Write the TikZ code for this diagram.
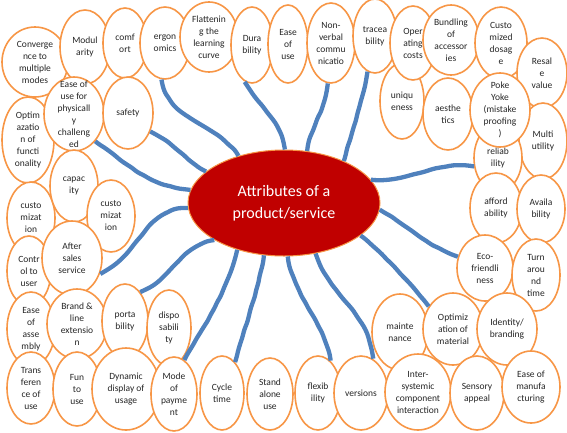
\documentclass[tikz,border=0pt]{standalone}
\usepackage{fontspec}
\setmainfont{Carlito}
\usepackage{tikz}
\usetikzlibrary{shapes.geometric,decorations.pathmorphing}

\definecolor{ringorange}{HTML}{F79646}
\definecolor{linkblue}{HTML}{4F81BD}
\definecolor{coredred}{HTML}{C00000}

\tikzset{
  attr/.style={ellipse, draw=ringorange, line width=1.6pt, fill=white,
    inner sep=-16pt, align=center, text=black!85,
    font=\fontsize{9.5}{12}\selectfont},
  core/.style={ellipse, draw=ringorange, line width=1pt, fill=coredred,
    inner sep=0pt, align=center, text=white, font=\fontsize{16}{22}\selectfont},
  link/.style={draw=linkblue, line width=4.3pt, rounded corners=3pt,
    decorate, decoration={random steps, segment length=7pt, amplitude=0.5pt}}
}

\newcommand{\attrnode}[6]{%
  \node[attr, minimum width=#4*2pt, minimum height=#5*2pt] (#1) at (#2,#3) {#6};}

\begin{document}
\begin{tikzpicture}[x=1pt, y=-1pt]

  \useasboundingbox (0,0) rectangle (567,432);

  % upper rows
  \attrnode{conv}{35}{62}{33}{35}{Converge\\nce to\\multiple\\modes}
  \attrnode{modu}{85}{47}{25}{37}{Modul\\arity}
  \attrnode{comf}{125}{43}{22}{35}{comf\\ort}
  \attrnode{ergo}{165}{43}{25}{36}{ergon\\omics}
  \attrnode{flat}{209}{37}{29}{35}{Flattenin\\g the\\learning\\curve}
  \attrnode{dura}{252}{45}{21}{38}{Dura\\bility}
  \attrnode{easu}{288}{44}{20}{39}{Ease\\of\\use}
  \attrnode{nonv}{331}{43}{24}{40}{Non-\\verbal\\commu\\nicatio}
  \attrnode{trac}{375}{36}{22}{37}{tracea\\bility}
  \attrnode{uniq}{402}{101}{22}{38}{uniqu\\eness}
  \attrnode{opco}{413}{43}{23}{37}{Oper\\ating\\costs}
  \attrnode{bund}{451}{40}{28}{35}{Bundling\\of\\accessor\\ies}
  \attrnode{cust}{501}{43}{26}{36}{Custo\\mized\\dosag\\e}
  \attrnode{resa}{542}{73}{25}{35}{Resal\\e\\value}
  \attrnode{aest}{448}{114}{25}{36}{aesthe\\tics}
  \attrnode{mult}{543}{141}{24}{38}{Multi\\utility}
  \attrnode{reli}{498}{158}{24}{34}{reliab\\ility}
  \attrnode{poke}{500}{110}{30}{37}{Poke\\Yoke\\(mistake\\proofing\\)}

  % left column
  \attrnode{opfu}{28}{140}{26}{43}{Optim\\azatio\\n of\\functi\\onality}
  \attrnode{easp}{74}{114}{30}{37}{Ease of\\use for\\physicall\\y\\challeng\\ed}
  \attrnode{safe}{128}{113}{25}{36}{safety}
  \attrnode{cusl}{31}{218}{24}{36}{custo\\mizat\\ion}
  \attrnode{capa}{74}{186}{24}{36}{capac\\ity}
  \attrnode{cusr}{111}{216}{24}{36}{custo\\mizat\\ion}
  \attrnode{ctrl}{29}{271}{22}{35}{Contr\\ol to\\user}
  \attrnode{afte}{72}{258}{30}{37}{After\\sales\\service}

  % right column
  \attrnode{affo}{496}{208}{26}{35}{afford\\ability}
  \attrnode{avai}{541}{209}{24}{34}{Availa\\bility}
  \attrnode{ecof}{485}{268}{28}{33}{Eco-\\friendli\\ness}
  \attrnode{turn}{536}{275}{24}{36}{Turn\\arou\\nd\\time}

  % lower rows
  \attrnode{assy}{31}{329}{24}{37}{Ease\\of\\asse\\mbly}
  \attrnode{bran}{77}{324}{30}{35}{Brand \&\\line\\extensio\\n}
  \attrnode{port}{125}{321}{23}{37}{porta\\bility}
  \attrnode{disp}{169}{328}{22}{38}{dispo\\sabili\\ty}
  \attrnode{main}{400}{332}{28}{38}{mainte\\nance}
  \attrnode{opma}{453}{329}{30}{36}{Optimiz\\ation of\\material}
  \attrnode{iden}{507}{329}{30}{36}{Identity/\\branding}
  \attrnode{tran}{31}{388}{24}{36}{Trans\\feren\\ce of\\use}
  \attrnode{fun}{77}{389}{24}{37}{Fun\\to\\use}
  \attrnode{dyna}{126}{389}{34}{41}{Dynamic\\display of\\usage}
  \attrnode{mode}{174}{394}{23}{37}{Mode\\of\\payme\\nt}
  \attrnode{cycl}{222}{393}{22}{37}{Cycle\\time}
  \attrnode{stan}{270}{394}{23}{36}{Stand\\alone\\use}
  \attrnode{flex}{318}{393}{23}{37}{flexib\\ility}
  \attrnode{vers}{361}{393}{27}{37}{versions}
  \attrnode{inte}{418}{392}{33}{38}{Inter-\\systemic\\component\\interaction}
  \attrnode{sens}{477}{393}{27}{37}{Sensory\\appeal}
  \attrnode{easm}{531}{387}{29}{36}{Ease of\\manufa\\cturing}

  \node[core, minimum width=192pt, minimum height=106pt] (hub) at (284,203)
    {Attributes of a\\product/service};

  \draw[link] (hub.134) to[out=125,in=-80] (ergo.265);
  \draw[link] (hub.158) to[out=150,in=-25] (safe.320);
  \draw[link] (hub.172) to[out=175,in=-35] (easp.308);
  \draw[link] (hub.183) to[out=180,in=25] (afte.331);
  \draw[link] (hub.208) to[out=190,in=20] (port.63);
  \draw[link] (hub.225) to[out=-105,in=60] (mode.73);
  \draw[link] (hub.249) to[out=-100,in=75] (cycl.67);
  \draw[link] (hub.274) to[out=-80,in=100] (flex.69);
  \draw[link] (hub.302) to[out=-70,in=95] (vers.71);
  \draw[link] (hub.337) to[out=-40,in=130] (opma.137);
  \draw[link] (hub.356) to[out=-30,in=160] (ecof.157);
  \draw[link] (hub.15) to[out=-5,in=170] (reli.200);
  \draw[link] (hub.35) to[out=75,in=-100] (trac.258);
  \draw[link] (hub.66) to[out=80,in=-95] (nonv.265);
  \draw[link] (hub.89) to[out=100,in=-60] (dura.259);

\end{tikzpicture}
\end{document}
